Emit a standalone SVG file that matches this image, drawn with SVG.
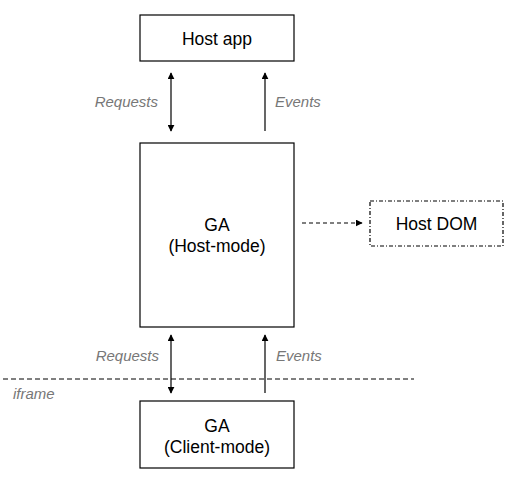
<svg xmlns="http://www.w3.org/2000/svg" width="514" height="482" viewBox="0 0 514 482">
<style>
.box{fill:#fff;stroke:#000;stroke-width:1.2}
.t{font-family:"Liberation Sans",Arial,sans-serif;font-size:17.5px;fill:#000;text-anchor:middle}
.lbl{font-family:"Liberation Sans",Arial,sans-serif;font-size:15px;font-style:italic;fill:#777}
.ln{stroke:#000;stroke-width:1.2;fill:none}
</style>
<defs>
<marker id="ah" viewBox="0 0 10 10" refX="9" refY="5" markerWidth="7" markerHeight="7" markerUnits="userSpaceOnUse" orient="auto-start-reverse">
<path d="M0,0 L10,5 L0,10 z" fill="#000"/>
</marker>
</defs>
<rect width="514" height="482" fill="#fff"/>
<g id="hostapp">
<rect class="box" x="140" y="15" width="154" height="46"/>
<text class="t" x="217" y="45">Host app</text>
</g>
<g id="gahost">
<rect class="box" x="140" y="143" width="154" height="184"/>
<text class="t" x="217" y="231">GA</text>
<text class="t" x="217" y="252">(Host-mode)</text>
</g>
<g id="hostdom">
<rect x="370" y="201" width="133" height="45" fill="#fff" stroke="#000" stroke-width="1.2" stroke-dasharray="4,2,1,2"/>
<text class="t" x="436.5" y="230">Host DOM</text>
</g>
<g id="gaclient">
<rect class="box" x="140" y="401" width="154" height="67"/>
<text class="t" x="217" y="432">GA</text>
<text class="t" x="217" y="453">(Client-mode)</text>
</g>
<g id="boundary">
<line x1="3" y1="379" x2="414" y2="379" stroke="#000" stroke-width="1" stroke-dasharray="5,3"/>
<text class="lbl" x="13" y="399">iframe</text>
</g>
<g id="connectors">
<line class="ln" x1="171" y1="73" x2="171" y2="131" marker-start="url(#ah)" marker-end="url(#ah)"/>
<line class="ln" x1="265" y1="131" x2="265" y2="73" marker-end="url(#ah)"/>
<line class="ln" x1="171" y1="335" x2="171" y2="393" marker-start="url(#ah)" marker-end="url(#ah)"/>
<line class="ln" x1="265" y1="393" x2="265" y2="335" marker-end="url(#ah)"/>
<line class="ln" x1="302" y1="223" x2="362" y2="223" stroke-dasharray="4,3" marker-end="url(#ah)"/>
<text class="lbl" x="158" y="107" text-anchor="end">Requests</text>
<text class="lbl" x="275" y="107">Events</text>
<text class="lbl" x="159" y="361" text-anchor="end">Requests</text>
<text class="lbl" x="276" y="361">Events</text>
</g>
</svg>
